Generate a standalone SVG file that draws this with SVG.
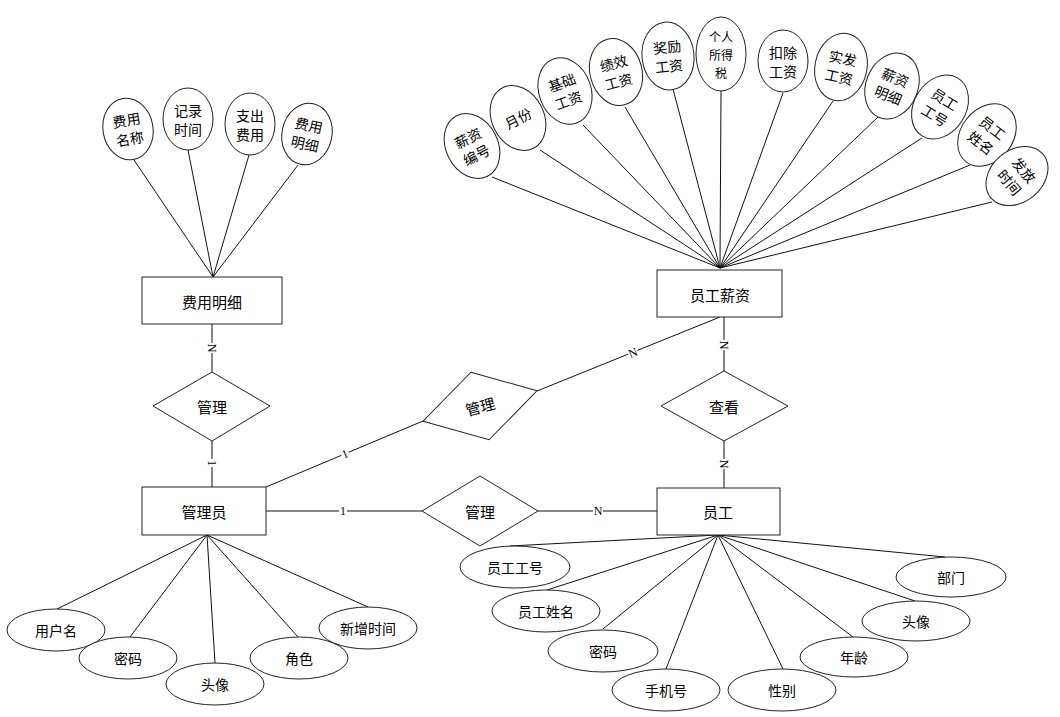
<svg xmlns="http://www.w3.org/2000/svg" width="1060" height="717" viewBox="0 0 1060 717">
  <style>
    .shape { fill: #ffffff; stroke: #222222; stroke-width: 1; }
    .link { stroke: #111111; stroke-width: 1; fill: none; }
    .txt { font-family: "Noto Sans CJK SC", "Noto Sans", sans-serif; font-size: 14px; fill: #000000; text-anchor: middle; dominant-baseline: central; }
    .big { font-size: 15px; }
    .small { font-size: 12px; }
    .card { font-family: "Liberation Serif", serif; font-size: 12px; fill: #000000; text-anchor: middle; dominant-baseline: central; }
    .bg { fill: #ffffff; stroke: none; }
  </style>
  <rect width="1060" height="717" fill="#ffffff"/>

  <!-- connectors -->
  <g id="connectors">
    <!-- 费用明细 attributes -->
    <line class="link" x1="213" y1="277" x2="134" y2="160"/>
    <line class="link" x1="213" y1="277" x2="188" y2="150"/>
    <line class="link" x1="213" y1="277" x2="249" y2="155"/>
    <line class="link" x1="213" y1="277" x2="298" y2="165"/>
    <!-- 员工薪资 attributes -->
    <line class="link" x1="720" y1="268" x2="492" y2="177"/>
    <line class="link" x1="720" y1="268" x2="540" y2="150"/>
    <line class="link" x1="720" y1="268" x2="583" y2="125"/>
    <line class="link" x1="720" y1="268" x2="625" y2="107"/>
    <line class="link" x1="720" y1="268" x2="673" y2="89"/>
    <line class="link" x1="720" y1="268" x2="721" y2="91"/>
    <line class="link" x1="720" y1="268" x2="783" y2="93"/>
    <line class="link" x1="720" y1="268" x2="833" y2="101"/>
    <line class="link" x1="720" y1="268" x2="878" y2="117"/>
    <line class="link" x1="720" y1="268" x2="922" y2="138"/>
    <line class="link" x1="720" y1="268" x2="970" y2="165"/>
    <line class="link" x1="720" y1="268" x2="992" y2="202"/>
    <!-- 管理员 attributes -->
    <line class="link" x1="207" y1="535" x2="57" y2="609"/>
    <line class="link" x1="207" y1="535" x2="130" y2="637"/>
    <line class="link" x1="207" y1="535" x2="215" y2="663"/>
    <line class="link" x1="207" y1="535" x2="298" y2="637"/>
    <line class="link" x1="207" y1="535" x2="368" y2="607"/>
    <!-- 员工 attributes -->
    <line class="link" x1="718" y1="535" x2="510" y2="546"/>
    <line class="link" x1="718" y1="535" x2="547" y2="590"/>
    <line class="link" x1="718" y1="535" x2="603" y2="629"/>
    <line class="link" x1="718" y1="535" x2="666" y2="669"/>
    <line class="link" x1="718" y1="535" x2="783" y2="669"/>
    <line class="link" x1="718" y1="535" x2="853" y2="637"/>
    <line class="link" x1="718" y1="535" x2="915" y2="601"/>
    <line class="link" x1="718" y1="535" x2="945" y2="557"/>
    <!-- relationships -->
    <line class="link" x1="212" y1="324" x2="212" y2="372"/>
    <line class="link" x1="212" y1="441" x2="212" y2="487"/>
    <line class="link" x1="724" y1="317" x2="724" y2="371"/>
    <line class="link" x1="724" y1="441" x2="724" y2="488"/>
    <line class="link" x1="266" y1="511" x2="422" y2="511"/>
    <line class="link" x1="538" y1="511" x2="657" y2="511"/>
    <line class="link" x1="266" y1="487" x2="423" y2="421"/>
    <line class="link" x1="537" y1="391" x2="720" y2="317"/>
    <!-- cardinality labels -->
    <g transform="translate(212 348) rotate(90)"><rect class="bg" x="-5" y="-6" width="10" height="12"/><text class="card">N</text></g>
    <g transform="translate(212 463) rotate(90)"><rect class="bg" x="-4" y="-6" width="8" height="12"/><text class="card">1</text></g>
    <g transform="translate(724 345) rotate(90)"><rect class="bg" x="-5" y="-6" width="10" height="12"/><text class="card">N</text></g>
    <g transform="translate(724 464) rotate(90)"><rect class="bg" x="-5" y="-6" width="10" height="12"/><text class="card">N</text></g>
    <g transform="translate(343 511)"><rect class="bg" x="-4" y="-6" width="8" height="12"/><text class="card">1</text></g>
    <g transform="translate(598 511)"><rect class="bg" x="-5" y="-6" width="10" height="12"/><text class="card">N</text></g>
    <g transform="translate(345 454) rotate(-23)"><rect class="bg" x="-4" y="-6" width="8" height="12"/><text class="card">1</text></g>
    <g transform="translate(633 353) rotate(-22)"><rect class="bg" x="-5" y="-6" width="10" height="12"/><text class="card">N</text></g>
  </g>

  <!-- entities -->
  <g id="fee-detail"><rect class="shape" x="142" y="277" width="140" height="47"/><text class="txt big" x="212" y="301">费用明细</text></g>
  <g id="salary"><rect class="shape" x="657" y="270" width="125" height="47"/><text class="txt big" x="720" y="294">员工薪资</text></g>
  <g id="admin"><rect class="shape" x="142" y="487" width="124" height="48"/><text class="txt big" x="204" y="511">管理员</text></g>
  <g id="employee"><rect class="shape" x="657" y="488" width="123" height="47"/><text class="txt big" x="718" y="511">员工</text></g>

  <!-- relationships -->
  <g id="rel-manage-fee"><polygon class="shape" points="212,372 270,406 212,441 153,406"/><text class="txt big" x="212" y="406">管理</text></g>
  <g id="rel-view"><polygon class="shape" points="724,371 788,406 724,441 661,406"/><text class="txt big" x="724" y="406">查看</text></g>
  <g id="rel-manage-emp"><polygon class="shape" points="480,476 538,511 480,546 422,511"/><text class="txt big" x="480" y="511">管理</text></g>
  <g id="rel-manage-salary" transform="translate(480 406) rotate(-15)"><polygon class="shape" points="0,-35 59,0 0,35 -59,0"/><text class="txt big">管理</text></g>

  <!-- 费用明细 attributes -->
  <g id="attr-fee-name" transform="translate(128 129) rotate(-10)"><ellipse class="shape" rx="25" ry="31"/><text class="txt" y="-9.5">费用</text><text class="txt" y="9.5">名称</text></g>
  <g id="attr-record-time" transform="translate(188 119)"><ellipse class="shape" rx="25" ry="31"/><text class="txt" y="-9.5">记录</text><text class="txt" y="9.5">时间</text></g>
  <g id="attr-expense" transform="translate(250 124)"><ellipse class="shape" rx="25" ry="31"/><text class="txt" y="-9.5">支出</text><text class="txt" y="9.5">费用</text></g>
  <g id="attr-fee-item" transform="translate(307 134) rotate(12)"><ellipse class="shape" rx="25" ry="31"/><text class="txt" y="-9.5">费用</text><text class="txt" y="9.5">明细</text></g>

  <!-- 员工薪资 attributes -->
  <g id="attr-salary-no" transform="translate(472 146) rotate(-27)"><ellipse class="shape" rx="26" ry="34"/><text class="txt" y="-9.5">薪资</text><text class="txt" y="9.5">编号</text></g>
  <g id="attr-month" transform="translate(518 118) rotate(-27)"><ellipse class="shape" rx="26" ry="34"/><text class="txt">月份</text></g>
  <g id="attr-base" transform="translate(565 91) rotate(-20)"><ellipse class="shape" rx="26" ry="34"/><text class="txt" y="-9.5">基础</text><text class="txt" y="9.5">工资</text></g>
  <g id="attr-perf" transform="translate(616 72) rotate(-15)"><ellipse class="shape" rx="26" ry="34"/><text class="txt" y="-9.5">绩效</text><text class="txt" y="9.5">工资</text></g>
  <g id="attr-bonus" transform="translate(668 56) rotate(-6)"><ellipse class="shape" rx="26" ry="34"/><text class="txt" y="-9.5">奖励</text><text class="txt" y="9.5">工资</text></g>
  <g id="attr-tax" transform="translate(721 54)"><ellipse class="shape" rx="25" ry="37"/><text class="txt small" y="-18">个人</text><text class="txt small">所得</text><text class="txt small" y="18">税</text></g>
  <g id="attr-deduct" transform="translate(783 61)"><ellipse class="shape" rx="25" ry="31"/><text class="txt" y="-9.5">扣除</text><text class="txt" y="9.5">工资</text></g>
  <g id="attr-net" transform="translate(841 67) rotate(12)"><ellipse class="shape" rx="26" ry="34"/><text class="txt" y="-9.5">实发</text><text class="txt" y="9.5">工资</text></g>
  <g id="attr-salary-item" transform="translate(892 86) rotate(22)"><ellipse class="shape" rx="26" ry="34"/><text class="txt" y="-9.5">薪资</text><text class="txt" y="9.5">明细</text></g>
  <g id="attr-emp-no" transform="translate(940 107) rotate(32)"><ellipse class="shape" rx="26" ry="34"/><text class="txt" y="-9.5">员工</text><text class="txt" y="9.5">工号</text></g>
  <g id="attr-emp-name" transform="translate(987 135) rotate(38)"><ellipse class="shape" rx="26" ry="34"/><text class="txt" y="-9.5">员工</text><text class="txt" y="9.5">姓名</text></g>
  <g id="attr-pay-time" transform="translate(1017 176) rotate(50)"><ellipse class="shape" rx="26" ry="34"/><text class="txt" y="-9.5">发放</text><text class="txt" y="9.5">时间</text></g>

  <!-- 管理员 attributes -->
  <g id="attr-username"><ellipse class="shape" cx="56" cy="630" rx="49" ry="21"/><text class="txt" x="56" y="630">用户名</text></g>
  <g id="attr-admin-pwd"><ellipse class="shape" cx="128" cy="658" rx="49" ry="21"/><text class="txt" x="128" y="658">密码</text></g>
  <g id="attr-admin-avatar"><ellipse class="shape" cx="215" cy="684" rx="49" ry="21"/><text class="txt" x="215" y="684">头像</text></g>
  <g id="attr-role"><ellipse class="shape" cx="299" cy="658" rx="49" ry="21"/><text class="txt" x="299" y="658">角色</text></g>
  <g id="attr-added-time"><ellipse class="shape" cx="368" cy="628" rx="49" ry="21"/><text class="txt" x="368" y="628">新增时间</text></g>

  <!-- 员工 attributes -->
  <g id="attr-staff-no"><ellipse class="shape" cx="515" cy="567" rx="55" ry="21"/><text class="txt" x="515" y="567">员工工号</text></g>
  <g id="attr-staff-name"><ellipse class="shape" cx="546" cy="611" rx="54" ry="21"/><text class="txt" x="546" y="611">员工姓名</text></g>
  <g id="attr-staff-pwd"><ellipse class="shape" cx="603" cy="651" rx="55" ry="21"/><text class="txt" x="603" y="651">密码</text></g>
  <g id="attr-phone"><ellipse class="shape" cx="666" cy="690" rx="54" ry="21"/><text class="txt" x="666" y="690">手机号</text></g>
  <g id="attr-gender"><ellipse class="shape" cx="782" cy="690" rx="54" ry="21"/><text class="txt" x="782" y="690">性别</text></g>
  <g id="attr-age"><ellipse class="shape" cx="854" cy="657" rx="54" ry="20"/><text class="txt" x="854" y="657">年龄</text></g>
  <g id="attr-staff-avatar"><ellipse class="shape" cx="916" cy="621" rx="54" ry="20"/><text class="txt" x="916" y="621">头像</text></g>
  <g id="attr-dept"><ellipse class="shape" cx="951" cy="577" rx="55" ry="20"/><text class="txt" x="951" y="577">部门</text></g>
</svg>
